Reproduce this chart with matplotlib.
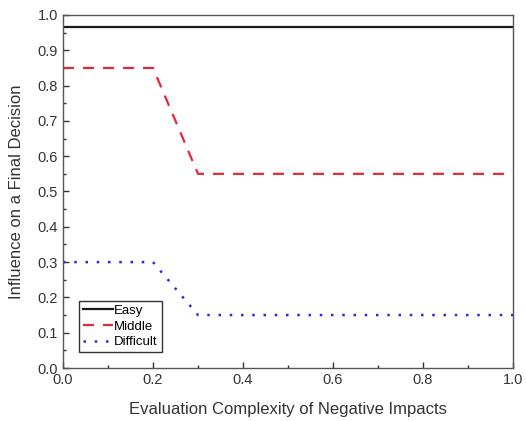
import matplotlib
matplotlib.use("Agg")
import matplotlib.pyplot as plt
from matplotlib.ticker import MultipleLocator

# data
x_easy = [0.0, 1.0]
y_easy = [0.965, 0.965]
x_mid = [0.0, 0.2, 0.3, 1.0]
y_mid = [0.85, 0.85, 0.55, 0.55]
x_diff = [0.0, 0.2, 0.3, 1.0]
y_diff = [0.30, 0.30, 0.15, 0.15]

plt.rcParams["font.family"] = ["Liberation Sans", "DejaVu Sans"]

fig = plt.figure(figsize=(5.26, 4.21), dpi=100)
ax = fig.add_axes([63 / 526, 1 - 368 / 421, 450 / 526, 353 / 421])

ax.plot(x_easy, y_easy, "-", color="#1a1a1a", lw=1.6, label="Easy")
ax.plot(x_mid, y_mid, "--", color="#e8283a", lw=1.6, dashes=(5, 4), label="Middle")
ax.plot(x_diff, y_diff, ":", color="#2b2bdc", lw=1.8, dashes=(1, 3.5), label="Difficult")

ax.set_xlim(0, 1)
ax.set_ylim(0, 1)
ax.xaxis.set_major_locator(MultipleLocator(0.2))
ax.xaxis.set_minor_locator(MultipleLocator(0.1))
ax.yaxis.set_major_locator(MultipleLocator(0.1))
ax.yaxis.set_minor_locator(MultipleLocator(0.05))
ax.xaxis.set_major_formatter(matplotlib.ticker.FormatStrFormatter("%.1f"))
ax.yaxis.set_major_formatter(matplotlib.ticker.FormatStrFormatter("%.1f"))
ax.tick_params(which="both", direction="in", labelsize=10.5, colors="#333333")
ax.tick_params(which="major", length=4, width=1)
ax.tick_params(which="minor", length=2, width=1)
for s in ax.spines.values():
    s.set_color("#555555")
    s.set_linewidth(1.0)

ax.set_xlabel("Evaluation Complexity of Negative Impacts", fontsize=12, color="#333333", labelpad=11)
ax.set_ylabel("Influence on a Final Decision", fontsize=12, color="#333333", labelpad=10)

leg = ax.legend(loc="lower left", bbox_to_anchor=(0.035, 0.045), fontsize=9.5,
                fancybox=False, framealpha=1, edgecolor="#333333",
                handlelength=2.3, handletextpad=0.1, borderpad=0.3,
                labelspacing=0.25, borderaxespad=0)
leg.get_frame().set_linewidth(1.0)

fig.savefig("out.png", dpi=100)
